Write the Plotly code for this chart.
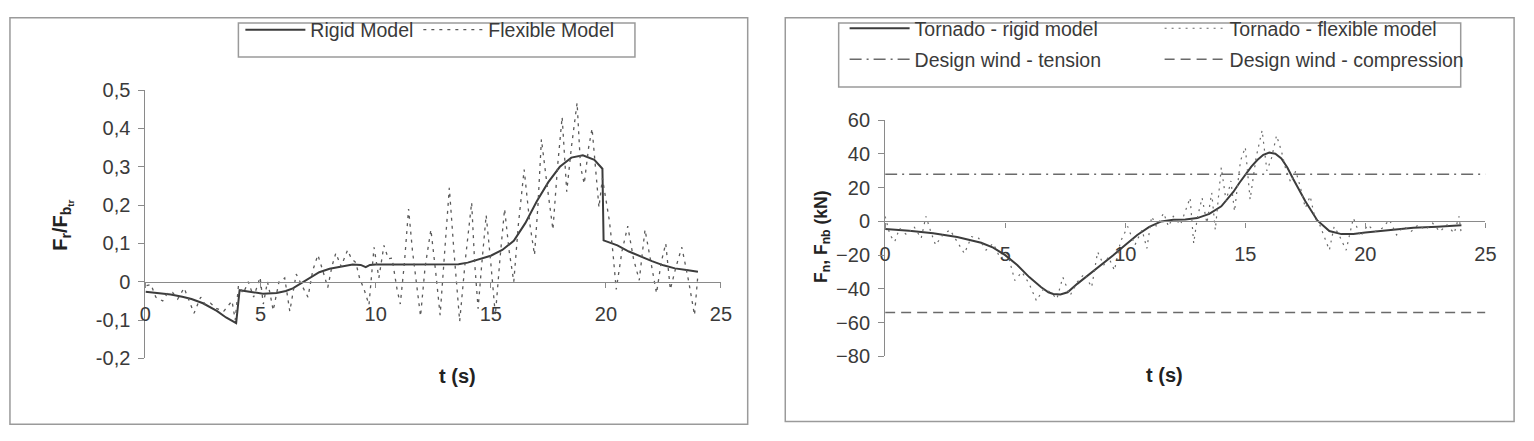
import plotly.graph_objects as go

W, H = 1534, 441
FONT = "Liberation Sans, Arial, sans-serif"
TXT = "#3a3a3a"
AXC = "#8a8a8a"

# ---------------- Left chart data: F_r / F_btr vs t ----------------
rigid_t = [0.0, 0.5, 1.1, 1.6, 2.0, 2.5, 3.1, 3.5, 3.94, 4.09, 4.55, 5.1, 5.7, 6.1, 6.4, 6.98,
           7.55, 8.0, 8.5, 9.0, 9.35, 9.57, 9.75, 10.0, 11.0, 12.0, 13.0, 13.6, 14.0, 14.5,
           15.0, 15.5, 16.0, 16.5, 17.0, 17.5, 18.0, 18.5, 19.0, 19.5, 19.85, 19.9, 20.5,
           21.0, 21.5, 22.0, 22.5, 23.0, 23.5, 24.0]
rigid_v = [-0.026, -0.029, -0.033, -0.039, -0.045, -0.056, -0.076, -0.093, -0.108, -0.022,
           -0.026, -0.031, -0.029, -0.024, -0.017, 0.004, 0.025, 0.034, 0.040, 0.045, 0.044,
           0.038, 0.044, 0.045, 0.045, 0.045, 0.045, 0.046, 0.050, 0.058, 0.068, 0.083,
           0.107, 0.153, 0.210, 0.260, 0.300, 0.324, 0.330, 0.318, 0.295, 0.108, 0.095,
           0.079, 0.066, 0.054, 0.043, 0.035, 0.031, 0.026]

flex_t = [0.05, 0.24, 0.45, 0.75, 0.95, 1.18, 1.4, 1.68, 1.9, 2.11, 2.4, 2.6, 2.83, 3.1, 3.4,
          3.76, 3.9, 4.04, 4.25, 4.47, 4.7, 4.98, 5.12, 5.3, 5.41, 5.55, 5.8, 6.05, 6.27, 6.55,
          6.8, 7.06, 7.27, 7.49, 7.7, 7.92, 8.1, 8.27, 8.5, 8.78, 8.95, 9.14, 9.3, 9.5, 9.71,
          9.93, 10.14, 10.36, 10.55, 10.71, 10.93, 11.07, 11.25, 11.43, 11.6, 11.95, 12.15,
          12.4, 12.6, 12.8, 13.0, 13.2, 13.4, 13.65, 13.9, 14.17, 14.3, 14.45, 14.6, 14.8,
          15.0, 15.2, 15.4, 15.6, 15.8, 16.0, 16.2, 16.45, 16.7, 16.9, 17.05, 17.2, 17.45,
          17.7, 17.9, 18.1, 18.3, 18.5, 18.75, 18.9, 19.06, 19.25, 19.4, 19.55, 19.7, 19.85,
          19.95, 20.15, 20.3, 20.45, 20.7, 20.95, 21.2, 21.45, 21.7, 21.95, 22.2, 22.4, 22.6,
          22.8, 23.05, 23.3, 23.6, 23.85, 24.0]
flex_v = [-0.010, -0.007, -0.040, -0.050, -0.030, -0.028, -0.045, -0.016, -0.050, -0.082,
          -0.040, -0.060, -0.056, -0.070, -0.077, -0.050, -0.100, -0.010, -0.030, 0.000,
          -0.040, 0.012, -0.058, 0.000, -0.030, -0.075, 0.000, 0.010, -0.077, 0.020, -0.010,
          -0.040, 0.030, 0.070, 0.030, -0.015, 0.040, 0.075, 0.040, 0.083, 0.060, 0.050,
          0.010, -0.020, -0.060, 0.090, 0.010, 0.095, 0.060, 0.062, -0.020, -0.058, 0.050,
          0.190, 0.080, -0.090, 0.040, 0.136, 0.030, -0.087, 0.080, 0.245, 0.080, -0.103,
          0.060, 0.207, 0.050, -0.070, 0.040, 0.174, 0.050, -0.087, 0.060, 0.190, 0.080,
          0.000, 0.150, 0.293, 0.150, 0.070, 0.200, 0.372, 0.250, 0.136, 0.300, 0.430,
          0.235, 0.350, 0.467, 0.300, 0.256, 0.350, 0.400, 0.300, 0.194, 0.270, 0.235,
          0.160, 0.080, -0.020, 0.080, 0.145, 0.060, 0.004, 0.136, 0.050, -0.030, 0.050,
          0.100, -0.020, 0.040, 0.090, 0.000, -0.087, 0.020]

# ---------------- Right chart data: F_n, F_nb (kN) vs t ----------------
tor_rigid_t = [0.0, 1.0, 2.0, 3.0, 4.0, 4.5, 5.0, 5.5, 6.0, 6.5, 6.8, 7.0, 7.3, 7.6, 8.0,
               8.5, 9.0, 9.5, 10.0, 10.5, 11.0, 11.5, 12.0, 12.5, 13.0, 13.5, 14.0, 14.5,
               14.75, 15.0, 15.25, 15.5, 15.75, 16.0, 16.25, 16.5, 16.75, 17.0, 17.5, 18.0,
               18.5, 19.0, 19.5, 20.0, 21.0, 22.0, 23.0, 24.0]
tor_rigid_v = [-4.5, -5.5, -7.0, -9.2, -12.6, -15.5, -20.0, -25.8, -33.0, -39.0, -42.0,
               -43.0, -43.3, -42.0, -37.0, -31.5, -26.0, -20.0, -14.0, -8.0, -3.2, 0.0, 1.0,
               1.1, 2.0, 4.5, 9.0, 17.5, 22.8, 28.0, 32.5, 36.4, 39.5, 40.8, 40.2, 37.4, 32.0,
               25.0, 12.0, 0.6, -5.7, -7.5, -7.5, -6.6, -5.0, -3.8, -3.2, -2.3]

tor_flex_t = [0.0, 0.2, 0.4, 0.6, 0.9, 1.2, 1.5, 1.7, 1.9, 2.1, 2.4, 2.7, 3.0, 3.3, 3.6, 3.9,
              4.2, 4.5, 4.8, 5.1, 5.4, 5.7, 6.0, 6.3, 6.6, 6.9, 7.15, 7.4, 7.7, 8.0, 8.3, 8.6,
              8.85, 9.1, 9.3, 9.55, 9.8, 10.1, 10.4, 10.7, 10.9, 11.1, 11.3, 11.6, 11.8, 12.0,
              12.3, 12.5, 12.7, 12.85, 13.0, 13.2, 13.4, 13.6, 13.75, 14.0, 14.2, 14.4, 14.55,
              14.8, 15.0, 15.2, 15.45, 15.7, 15.9, 16.1, 16.3, 16.5, 16.7, 16.9, 17.1, 17.3,
              17.5, 17.7, 17.9, 18.1, 18.3, 18.5, 18.7, 18.9, 19.2, 19.5, 19.8, 20.1, 20.4,
              20.7, 21.0, 21.3, 21.6, 21.9, 22.2, 22.5, 22.8, 23.1, 23.4, 23.7, 23.9, 24.0]
tor_flex_v = [3, -8, -12, -4, -8, -3, -10, 3, -6, -14, -8, -5, -12, -19, -9, -10, -17, -13,
              -22, -19, -35, -30, -37, -47, -40, -42, -46, -33, -44, -36, -31, -39, -18, -26,
              -21, -29, -12, -3, -14, -5, -16, 3, -3, 5, -3, 3, -2, 6, 14, -13, 2, 14, -1, 17,
              -5, 32, 12, 24, 6, 36, 44, 13, 38, 54, 30, 38, 51, 42, 30, 23, 30, 20, 8, 15, 2,
              -2, -10, -17, -3, -8, -17, 2, -9, -2, -6, -4, 1, -8, -3, -6, -2, -5, -1, -6, -2,
              -7, 3, -8]

design_t = [0, 25]
design_tension = 28
design_compression = -54

x_ticks = [0, 5, 10, 15, 20, 25]
left_y_ticks = [-0.2, -0.1, 0, 0.1, 0.2, 0.3, 0.4, 0.5]
left_y_text = ["-0,2", "-0,1", "0", "0,1", "0,2", "0,3", "0,4", "0,5"]
right_y_ticks = [-80, -60, -40, -20, 0, 20, 40, 60]
left_range = [-0.2, 0.5]
right_range = [-80, 60]


def px(x):
    return x / W


def py(y):
    return 1 - y / H


def zero_pos(dom, rng):
    return dom[0] + (0 - rng[0]) / (rng[1] - rng[0]) * (dom[1] - dom[0])


L_xdom = [px(141), px(723)]
L_ydom = [py(365.7), py(83.3)]
R_xdom = [px(889), px(1496)]
R_ydom = [py(363.5), py(115)]

fig = go.Figure()

fig.add_trace(go.Scatter(x=rigid_t, y=rigid_v, mode="lines", name="Rigid Model",
                         line=dict(color="#3c3c3c", width=2), xaxis="x", yaxis="y",
                         legend="legend"))
fig.add_trace(go.Scatter(x=flex_t, y=flex_v, mode="lines", name="Flexible Model",
                         line=dict(color="#5a5a5a", width=1.3, dash="3px,5px"),
                         xaxis="x", yaxis="y", legend="legend"))

fig.add_trace(go.Scatter(x=tor_rigid_t, y=tor_rigid_v, mode="lines",
                         name="Tornado - rigid model",
                         line=dict(color="#3c3c3c", width=2), xaxis="x2", yaxis="y2",
                         legend="legend2"))
fig.add_trace(go.Scatter(x=tor_flex_t, y=tor_flex_v, mode="lines",
                         name="Tornado - flexible model",
                         line=dict(color="#6a6a6a", width=1.2, dash="2px,5px"),
                         xaxis="x2", yaxis="y2", legend="legend2"))
fig.add_trace(go.Scatter(x=design_t, y=[design_tension] * 2, mode="lines",
                         name="Design wind - tension",
                         line=dict(color="#6a6a6a", width=1.5, dash="12px,5px,2px,5px"),
                         xaxis="x2", yaxis="y2", legend="legend3"))
fig.add_trace(go.Scatter(x=design_t, y=[design_compression] * 2, mode="lines",
                         name="Design wind - compression",
                         line=dict(color="#6a6a6a", width=1.5, dash="10px,6px"),
                         xaxis="x2", yaxis="y2", legend="legend3"))

tickfont = dict(family=FONT, size=20, color=TXT)
xcommon = dict(range=[0, 25], tickvals=x_ticks, showline=True, linecolor=AXC, linewidth=1.2,
               ticks="outside", ticklen=5, tickcolor=AXC, showgrid=False, zeroline=False,
               tickfont=tickfont, anchor="free", ticklabelstandoff=9)
ycommon = dict(showline=True, linecolor=AXC, linewidth=1.2, ticks="outside", ticklen=6,
               tickcolor=AXC, showgrid=False, zeroline=False, tickfont=tickfont,
               ticklabelstandoff=4)

legfont = dict(family=FONT, size=19.5, color=TXT)
legcommon = dict(orientation="h", bgcolor="rgba(0,0,0,0)", borderwidth=0, font=legfont,
                 xanchor="left", yanchor="middle", itemwidth=60,
                 tracegroupgap=0, traceorder="normal", itemclick=False)

fig.update_layout(
    width=W, height=H, margin=dict(l=0, r=0, t=0, b=0),
    paper_bgcolor="white", plot_bgcolor="white", showlegend=True,
    font=dict(family=FONT, color=TXT),
    xaxis=dict(domain=L_xdom, position=zero_pos(L_ydom, left_range), **xcommon),
    yaxis=dict(domain=L_ydom, range=left_range, tickvals=left_y_ticks, ticktext=left_y_text,
               anchor="x", **ycommon),
    xaxis2=dict(domain=R_xdom, position=zero_pos(R_ydom, right_range), **xcommon),
    yaxis2=dict(domain=R_ydom, range=right_range, tickvals=right_y_ticks, anchor="x2",
                **ycommon),
    legend=dict(x=px(237), y=py(20), **legcommon),
    legend2=dict(x=px(848), y=py(18.5), entrywidth=240, entrywidthmode="pixels",
                 **legcommon),
    legend3=dict(x=px(848), y=py(51), entrywidth=240, entrywidthmode="pixels",
                 **legcommon),
    shapes=[
        dict(type="rect", xref="paper", yref="paper", x0=px(4), x1=px(750), y0=py(435),
             y1=py(7), line=dict(color="#9a9a9a", width=1.5)),
        dict(type="rect", xref="paper", yref="paper", x0=px(788), x1=px(1525), y0=py(432),
             y1=py(7), line=dict(color="#9a9a9a", width=1.5)),
        dict(type="rect", xref="paper", yref="paper", x0=px(235), x1=px(636), y0=py(48.3),
             y1=py(12.7), line=dict(color="#9a9a9a", width=1.5)),
        dict(type="rect", xref="paper", yref="paper", x0=px(842), x1=px(1471), y0=py(80),
             y1=py(12.7), line=dict(color="#9a9a9a", width=1.5)),
    ],
    annotations=[
        dict(text="<b>t (s)</b>", xref="paper", yref="paper", x=px(436), y=py(398),
             showarrow=False, font=dict(family=FONT, size=20, color="#222")),
        dict(text="<b>t (s)</b>", xref="paper", yref="paper", x=px(1192), y=py(397),
             showarrow=False, font=dict(family=FONT, size=20, color="#222")),
        dict(text="<b>F<sub>r</sub>/F<sub>b<sub>tr</sub></sub></b>", xref="paper",
             yref="paper", x=px(42), y=py(226), textangle=-90, showarrow=False,
             font=dict(family=FONT, size=20, color="#222")),
        dict(text="<b>F<sub>n</sub>, F<sub>nb</sub> (kN)</b>", xref="paper", yref="paper",
             x=px(825), y=py(238), textangle=-90, showarrow=False,
             font=dict(family=FONT, size=17.5, color="#222")),
    ],
)

fig.write_html("out.html")
